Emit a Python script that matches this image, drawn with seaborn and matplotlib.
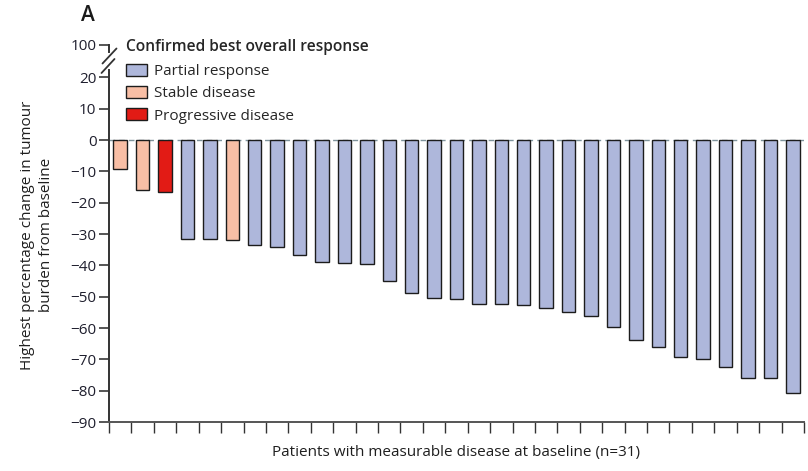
import numpy as np
import pandas as pd
import matplotlib
matplotlib.use("Agg")
import matplotlib.pyplot as plt
import seaborn as sns
from matplotlib.patches import Patch

# ---- data ----
patients = [f"P{i+1}" for i in range(31)]
change = [-9.4, -16.1, -16.7, -31.7, -31.7, -32.0, -33.6, -34.3, -36.8, -38.8,
          -39.1, -39.7, -45.1, -48.7, -50.3, -50.6, -52.2, -52.2, -52.8, -53.5,
          -55.0, -56.3, -59.8, -63.7, -66.2, -69.4, -70.0, -72.3, -75.8, -76.1,
          -80.9]
response = ["Stable disease", "Stable disease", "Progressive disease",
            "Partial response", "Partial response", "Stable disease"] + ["Partial response"] * 25
categories = ["Partial response", "Stable disease", "Progressive disease"]
colors = ["#AEB7DB", "#F8BEA5", "#E21B15"]
yticks_main = [20, 10, 0, -10, -20, -30, -40, -50, -60, -70, -80, -90]
ytick_top = [100]
xlabel = "Patients with measurable disease at baseline (n=31)"
ylabel = "Highest percentage change in tumour\nburden from baseline"
legend_title = "Confirmed best overall response"

df = pd.DataFrame({"patient": patients, "change": change, "response": response})

sns.set_theme(style="white")
plt.rcParams["font.family"] = ["Open Sans", "DejaVu Sans"]
plt.rcParams["axes.unicode_minus"] = True

W, H = 808, 471
fig = plt.figure(figsize=(W / 100, H / 100), dpi=100)

def fr(x0, y0, x1, y1):
    # pixel box (top-left origin) -> figure fraction rect
    return [x0 / W, 1 - y1 / H, (x1 - x0) / W, (y1 - y0) / H]

scale = (422 - 140) / 90.0
top_val = (140 - 70) / scale
ax = fig.add_axes(fr(109, 70, 804, 422))
ax_top = fig.add_axes(fr(109, 45, 804, 52))

palette = dict(zip(categories, colors))
sns.barplot(data=df, x="patient", y="change", hue="response", hue_order=categories,
            palette=palette, dodge=False, width=0.6, edgecolor="#1c1c1c",
            linewidth=1.0, saturation=1, ax=ax, legend=False, order=patients)

ax.set_ylim(-90, top_val)
ax.set_xlim(-0.5, len(patients) - 0.5)
ax.set_yticks(yticks_main)
ax.set_xticks(np.arange(len(patients) + 1) - 0.5)
ax.set_xticklabels([])
ax.axhline(0, color="#7F939B", lw=1.0, ls=(0, (4, 3)), zorder=0)

for a in (ax, ax_top):
    a.spines["top"].set_visible(False)
    a.spines["right"].set_visible(False)
    a.patch.set_alpha(0)
ax.spines["left"].set_color("#333333")
ax.spines["left"].set_linewidth(1.4)
ax.spines["bottom"].set_color("#555555")
ax.spines["bottom"].set_linewidth(1.4)
ax.tick_params(axis="y", direction="out", length=7, width=1.4, color="#555555",
               labelsize=11, labelcolor="#1f1f2e", pad=2, left=True)
ax.tick_params(axis="x", direction="out", length=8, width=1.0, color="#333333",
               bottom=True)
ax.set_xlabel(xlabel, fontsize=11, color="#1f1f1f", labelpad=5)
ax.set_ylabel(ylabel, fontsize=11, color="#1f1f1f", labelpad=6, linespacing=1.35)
ax.yaxis.set_label_coords((54 - 109) / 695, (422 - 235) / 352)

ax_top.set_ylim(100 - 7 / scale, 100)
ax_top.set_xlim(0, 1)
ax_top.set_yticks(ytick_top)
ax_top.set_xticks([])
ax_top.spines["bottom"].set_visible(False)
ax_top.spines["left"].set_color("#333333")
ax_top.spines["left"].set_linewidth(1.4)
ax_top.tick_params(axis="y", direction="out", length=7, width=1.4, color="#555555",
                   labelsize=11, labelcolor="#1f1f2e", pad=2, left=True)
ax_top.grid(False)
ax.grid(False)

# break marks
for (x0, y0, x1, y1) in [(102.5, 63.5, 116.5, 48.5), (101.5, 73.0, 114.5, 59.0)]:
    fig.add_artist(plt.Line2D([x0 / W, x1 / W], [1 - y0 / H, 1 - y1 / H],
                              color="#333333", lw=1.3, transform=fig.transFigure))

handles = [Patch(facecolor=c, edgecolor="#1c1c1c", linewidth=1.0) for c in colors]
leg = ax.legend(handles, categories, title=legend_title, loc="upper left",
                bbox_to_anchor=(126 / W, 1 - 39 / H), bbox_transform=fig.transFigure,
                frameon=False, fontsize=11, title_fontsize=11.2,
                handlelength=1.4, handleheight=0.8, handletextpad=0.4,
                labelspacing=0.46, borderaxespad=0, borderpad=0)
leg.get_title().set_fontweight("semibold")
leg._legend_box.align = "left"
leg._legend_box.sep = 6.5

fig.text(81 / W, 1 - 15.5 / H, "A", fontsize=15, fontweight="semibold",
         va="center", ha="left", color="#1a1a1a")

fig.savefig("out.png", dpi=100)
